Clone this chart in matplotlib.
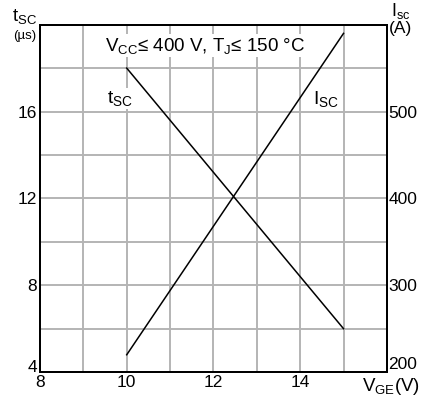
import matplotlib
matplotlib.use('Agg')
import matplotlib.pyplot as plt

plt.rcParams['font.family'] = ['Liberation Sans', 'DejaVu Sans']
plt.rcParams['mathtext.fontset'] = 'custom'
plt.rcParams['mathtext.rm'] = 'Liberation Sans'
plt.rcParams['mathtext.it'] = 'Liberation Sans'

# data
vge = [10, 15]
tsc = [18, 6]        # us
isc = [220, 590]     # A

x_ticks = [8, 10, 12, 14]
tsc_ticks = [4, 8, 12, 16]
isc_ticks = [200, 300, 400, 500]

fig = plt.figure(figsize=(4.21, 3.98), dpi=100)
ax = fig.add_axes([0.095, 0.065, 0.824, 0.873])
ax2 = ax.twinx()

ax.set_xlim(8, 16)
ax.set_ylim(4, 20)
ax2.set_ylim(200, 600)

# grid every 1 V and 2 us
for xv in range(9, 16):
    ax.axvline(xv, color='#b4b4b4', lw=1.4, zorder=0)
for yv in range(6, 20, 2):
    ax.axhline(yv, color='#b4b4b4', lw=1.4, zorder=0)

ax.plot(vge, tsc, color='black', lw=1.1, zorder=3)
ax2.plot(vge, isc, color='black', lw=1.1, zorder=3)

ax.set_xticks(x_ticks)
ax.set_yticks(tsc_ticks)
ax2.set_yticks(isc_ticks)
ax.tick_params(length=0, labelsize=12.5, pad=2)
ax.tick_params(axis='x', pad=2)
ax2.tick_params(length=0, labelsize=12.5, pad=1)
ax.get_yticklabels()[0].set_va('baseline')
ax2.get_yticklabels()[0].set_va('bottom')
for a in (ax, ax2):
    for s in a.spines.values():
        s.set_linewidth(1.4)

bb = dict(facecolor='white', edgecolor='none', pad=1)
ax.text(11.8, 19.03, r'$\mathregular{V_{CC}}$≤ 400 V, $\mathregular{T_J}$≤ 150 °C',
        ha='center', va='center', fontsize=13.5, bbox=bb, zorder=4)
ax.text(9.54, 16.6, r'$\mathregular{t_{SC}}$', ha='left', va='center',
        fontsize=14, bbox=bb, zorder=4)
ax.text(14.29, 16.6, r'$\mathregular{I_{SC}}$', ha='left', va='center',
        fontsize=14, bbox=bb, zorder=4)

# axis titles in the corners
fig.text(0.058, 0.958, r'$\mathregular{t_{SC}}$', ha='center', va='center', fontsize=13.5)
fig.text(0.058, 0.91, '(µs)', ha='center', va='center', fontsize=9.5)
fig.text(0.952, 0.972, r'$\mathregular{I_{sc}}$', ha='center', va='center', fontsize=13)
fig.text(0.952, 0.928, '(A)', ha='center', va='center', fontsize=12.5)
fig.text(0.998, 0.028, r'$\mathregular{V_{GE}}$(V)', ha='right', va='center', fontsize=13.5)

fig.savefig('out.png', dpi=100)
